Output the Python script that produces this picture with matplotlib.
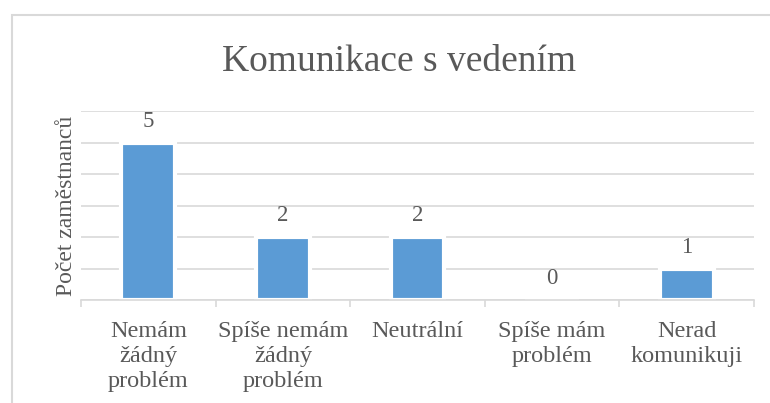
import matplotlib
matplotlib.use("Agg")
import matplotlib.pyplot as plt
from matplotlib.patches import Rectangle

categories = ["Nemám\nžádný\nproblém", "Spíše nemám\nžádný\nproblém", "Neutrální",
              "Spíše mám\nproblém", "Nerad\nkomunikuji"]
values = [5, 2, 2, 0, 1]
title = "Komunikace s vedením"
ylabel = "Počet zaměstnanců"

W, H = 770, 403
plt.rcParams['font.family'] = ['Liberation Serif', 'DejaVu Serif']
txt = '#595959'
grid_c = '#d9d9d9'

fig = plt.figure(figsize=(W/100, H/100), dpi=100)
fig.patches.append(Rectangle((12.5/W, -0.1), 1.2, 1.1 - 15/H, transform=fig.transFigure,
                             fill=False, edgecolor=grid_c, linewidth=1.5))

ax = fig.add_axes([81/W, 1-300/H, (754-81)/W, (300-111)/H])
x = list(range(len(values)))
bars = ax.bar(x, values, width=0.40, color='#5b9bd5', edgecolor='white', linewidth=3, zorder=3)
ax.set_xlim(-0.5, len(values)-0.5)
ax.set_ylim(0, 6)
ax.set_yticks(range(0, 7))
ax.yaxis.grid(True, color=grid_c, linewidth=1.2, zorder=0)
ax.set_axisbelow(True)
ax.tick_params(axis='y', length=0, labelleft=False)
for s in ['top', 'right', 'left']:
    ax.spines[s].set_visible(False)
ax.spines['bottom'].set_color(grid_c)
ax.spines['bottom'].set_linewidth(1.2)
ax.spines['bottom'].set_zorder(4)

ax.set_xticks(x)
ax.set_xticklabels(categories, fontsize=17.5, color=txt, linespacing=1.27, va='top')
ax.tick_params(axis='x', which='major', length=0, pad=15)
ax.set_xticks([i - 0.5 for i in range(len(values)+1)], minor=True)
ax.tick_params(axis='x', which='minor', length=5, color=grid_c, width=1.2)

for xi, v in zip(x, values):
    ax.annotate(str(v), (xi, v), xytext=(0, 11.5), textcoords='offset points',
                ha='center', va='baseline', fontsize=16.5, color=txt)

ax.set_ylabel(ylabel, fontsize=17, color=txt, labelpad=3)
fig.text(399/W, 1-71/H, title, ha='center', va='baseline', fontsize=27, color=txt)

fig.savefig("out.png", dpi=100)
